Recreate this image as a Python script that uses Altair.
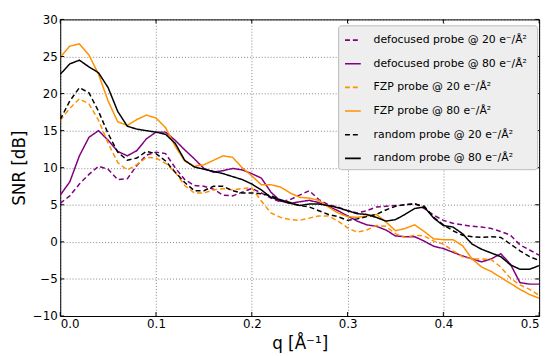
import altair as alt
import pandas as pd

q = [round(i * 0.01, 2) for i in range(51)]

defocused_20 = [5.2, 6.2, 7.8, 9.1, 10.2, 9.8, 8.4, 8.5, 10.3, 11.7,
                12.1, 11.9, 10.0, 8.4, 7.6, 7.5, 7.1, 6.3, 6.2, 6.7,
                7.2, 6.6, 5.9, 5.4, 5.7, 6.3, 6.9, 5.7, 5.0, 4.7,
                4.2, 3.9, 4.2, 4.7, 4.8, 4.9, 5.0, 5.2, 4.5, 3.6,
                2.9, 2.5, 2.3, 2.1, 2.0, 1.8, 1.4, 0.9, -0.4, -1.1, -1.8]
defocused_80 = [6.3, 8.1, 11.6, 14.1, 15.0, 13.7, 12.2, 11.6, 12.3, 13.9,
                14.8, 14.8, 13.7, 12.4, 11.2, 9.9, 9.4, 9.6, 9.9, 9.7,
                9.2, 8.6, 6.7, 5.5, 5.2, 5.4, 5.6, 5.3, 4.8, 4.2,
                3.5, 2.8, 2.3, 2.1, 1.6, 0.8, 0.7, 0.7, 0.1, -0.6,
                -0.9, -1.4, -1.9, -2.3, -2.7, -2.3, -1.6, -3.0, -5.5, -5.7, -5.7]
fzp_20 = [16.4, 18.0, 19.3, 18.6, 16.4, 13.3, 10.7, 9.7, 10.4, 11.4,
          11.3, 10.6, 9.4, 7.6, 6.6, 6.6, 7.0, 7.2, 7.0, 7.2,
          7.3, 5.5, 3.9, 3.3, 3.0, 2.9, 3.2, 3.5, 3.5, 2.8,
          1.9, 1.3, 1.6, 2.2, 2.1, 1.1, 0.6, 0.9, 0.8, 0.1,
          -0.3, -1.2, -2.0, -2.3, -2.3, -2.4, -3.4, -4.9, -5.8, -6.4, -7.2]
fzp_80 = [24.9, 26.4, 26.7, 25.2, 22.6, 19.0, 16.2, 15.7, 16.5, 17.1,
          16.7, 15.4, 12.9, 10.9, 10.2, 10.4, 11.0, 11.6, 11.4, 10.0,
          8.9, 7.7, 7.7, 7.4, 6.6, 6.0, 5.9, 5.6, 4.7, 3.9,
          3.4, 3.3, 3.5, 3.7, 2.7, 1.5, 1.8, 2.3, 1.4, 0.4,
          0.3, 0.3, -0.5, -2.3, -3.4, -4.0, -4.8, -5.6, -6.4, -7.1, -7.6]
random_20 = [16.5, 19.0, 20.8, 20.1, 17.6, 14.6, 12.1, 11.0, 11.3, 12.2,
             11.9, 10.9, 9.4, 8.0, 6.9, 6.9, 7.5, 7.5, 6.9, 6.6,
             6.6, 6.5, 6.2, 5.7, 5.3, 4.9, 4.7, 4.2, 3.7, 3.4,
             2.9, 3.1, 3.4, 3.7, 4.3, 4.8, 5.0, 5.1, 4.8, 3.3,
             2.3, 1.5, 0.9, 0.7, 0.6, 0.7, 0.6, -0.3, -1.2, -2.0, -2.5]
random_80 = [22.6, 24.0, 24.5, 23.6, 22.8, 20.8, 17.6, 15.6, 15.2, 15.0,
             14.8, 14.5, 13.3, 11.0, 10.1, 9.8, 9.5, 9.2, 8.8, 8.4,
             7.8, 7.0, 6.0, 5.6, 5.2, 4.9, 5.1, 5.1, 4.9, 4.6,
             4.2, 3.8, 3.7, 3.3, 2.8, 3.0, 3.7, 4.5, 4.7, 3.2,
             2.2, 2.0, 1.1, -0.3, -1.0, -1.5, -2.0, -3.1, -3.7, -3.7, -3.2]

labels = [
    "defocused probe @ 20  e\u207b/\u00c5\u00b2",
    "defocused probe @ 80  e\u207b/\u00c5\u00b2",
    "FZP probe @ 20  e\u207b/\u00c5\u00b2",
    "FZP probe @ 80  e\u207b/\u00c5\u00b2",
    "random probe @ 20  e\u207b/\u00c5\u00b2",
    "random probe @ 80  e\u207b/\u00c5\u00b2",
]
series = [defocused_20, defocused_80, fzp_20, fzp_80, random_20, random_80]
colors = ["#800080", "#800080", "#ff9000", "#ff9000", "#000000", "#000000"]
dashes = [[5, 3], [1, 0], [5, 3], [1, 0], [5, 3], [1, 0]]

x_ticks = [0.0, 0.1, 0.2, 0.3, 0.4, 0.5]
y_ticks = [-10, -5, 0, 5, 10, 15, 20, 25, 30]

rows = []
for k, (name, vals) in enumerate(zip(labels, series)):
    for qi, v in zip(q, vals):
        rows.append({"series": name, "q": qi, "snr": v, "k": k})
df = pd.DataFrame(rows)

W, H = 486, 301
xs = alt.Scale(domain=[0, 0.5], nice=False, zero=False)
ys = alt.Scale(domain=[-10, 30], nice=False, zero=False)

x_axis = alt.Axis(values=x_ticks, format=".1f", title="q [\u00c5\u207b\u00b9]",
                  titleY=33, titleBaseline="alphabetic", labelPadding=3)
y_axis = alt.Axis(values=y_ticks, format="d", title="SNR [dB]",
                  titleX=-41, titleY=150.5, titleAngle=270, titleAlign="center",
                  titleBaseline="middle", labelPadding=3)

leg = alt.Legend(
    title=None, orient="none", legendX=282, legendY=6,
    fillColor="#eeeeee", strokeColor="#bbbbbb", cornerRadius=3, padding=6,
    symbolType="stroke", symbolSize=256, symbolStrokeWidth=1.6,
    labelFont="DejaVu Sans", labelFontSize=11, labelColor="black",
    labelOffset=12, rowPadding=10, labelLimit=0,
)

lines = alt.Chart(df).mark_line(strokeWidth=1.5, clip=True).encode(
    x=alt.X("q:Q", scale=xs, axis=x_axis),
    y=alt.Y("snr:Q", scale=ys, axis=y_axis),
    color=alt.Color("series:N", scale=alt.Scale(domain=labels, range=colors), legend=leg),
    strokeDash=alt.StrokeDash("series:N", scale=alt.Scale(domain=labels, range=dashes), legend=leg),
    order=alt.Order("q:Q"),
)

tx = pd.DataFrame({"q": x_ticks})
ty = pd.DataFrame({"snr": y_ticks})
tick_len = 4
bottom_ticks = alt.Chart(tx).mark_rule(color="black", strokeWidth=1).encode(
    x=alt.X("q:Q", scale=xs, axis=x_axis), y=alt.value(H), y2=alt.value(H - tick_len))
top_ticks = alt.Chart(tx).mark_rule(color="black", strokeWidth=1).encode(
    x=alt.X("q:Q", scale=xs, axis=x_axis), y=alt.value(0), y2=alt.value(tick_len))
left_ticks = alt.Chart(ty).mark_rule(color="black", strokeWidth=1).encode(
    y=alt.Y("snr:Q", scale=ys, axis=y_axis), x=alt.value(0), x2=alt.value(tick_len))
right_ticks = alt.Chart(ty).mark_rule(color="black", strokeWidth=1).encode(
    y=alt.Y("snr:Q", scale=ys, axis=y_axis), x=alt.value(W), x2=alt.value(W - tick_len))

chart = alt.layer(lines, bottom_ticks, top_ticks, left_ticks, right_ticks).properties(
    width=W, height=H,
    autosize=alt.AutoSizeParams(type="none"),
    padding={"left": 53, "top": 9, "right": 9, "bottom": 38},
).configure_view(
    stroke="black", strokeWidth=1
).configure_axis(
    domain=False, ticks=False,
    grid=True, gridColor="#000000", gridDash=[1, 2], gridWidth=0.7, gridOpacity=0.7,
    labelFont="DejaVu Sans", labelFontSize=12, labelColor="black",
    titleFont="DejaVu Sans", titleFontSize=17, titleColor="black", titleFontWeight="normal",
)

chart.save("out.html", embed_options={"renderer": "svg", "actions": False})
